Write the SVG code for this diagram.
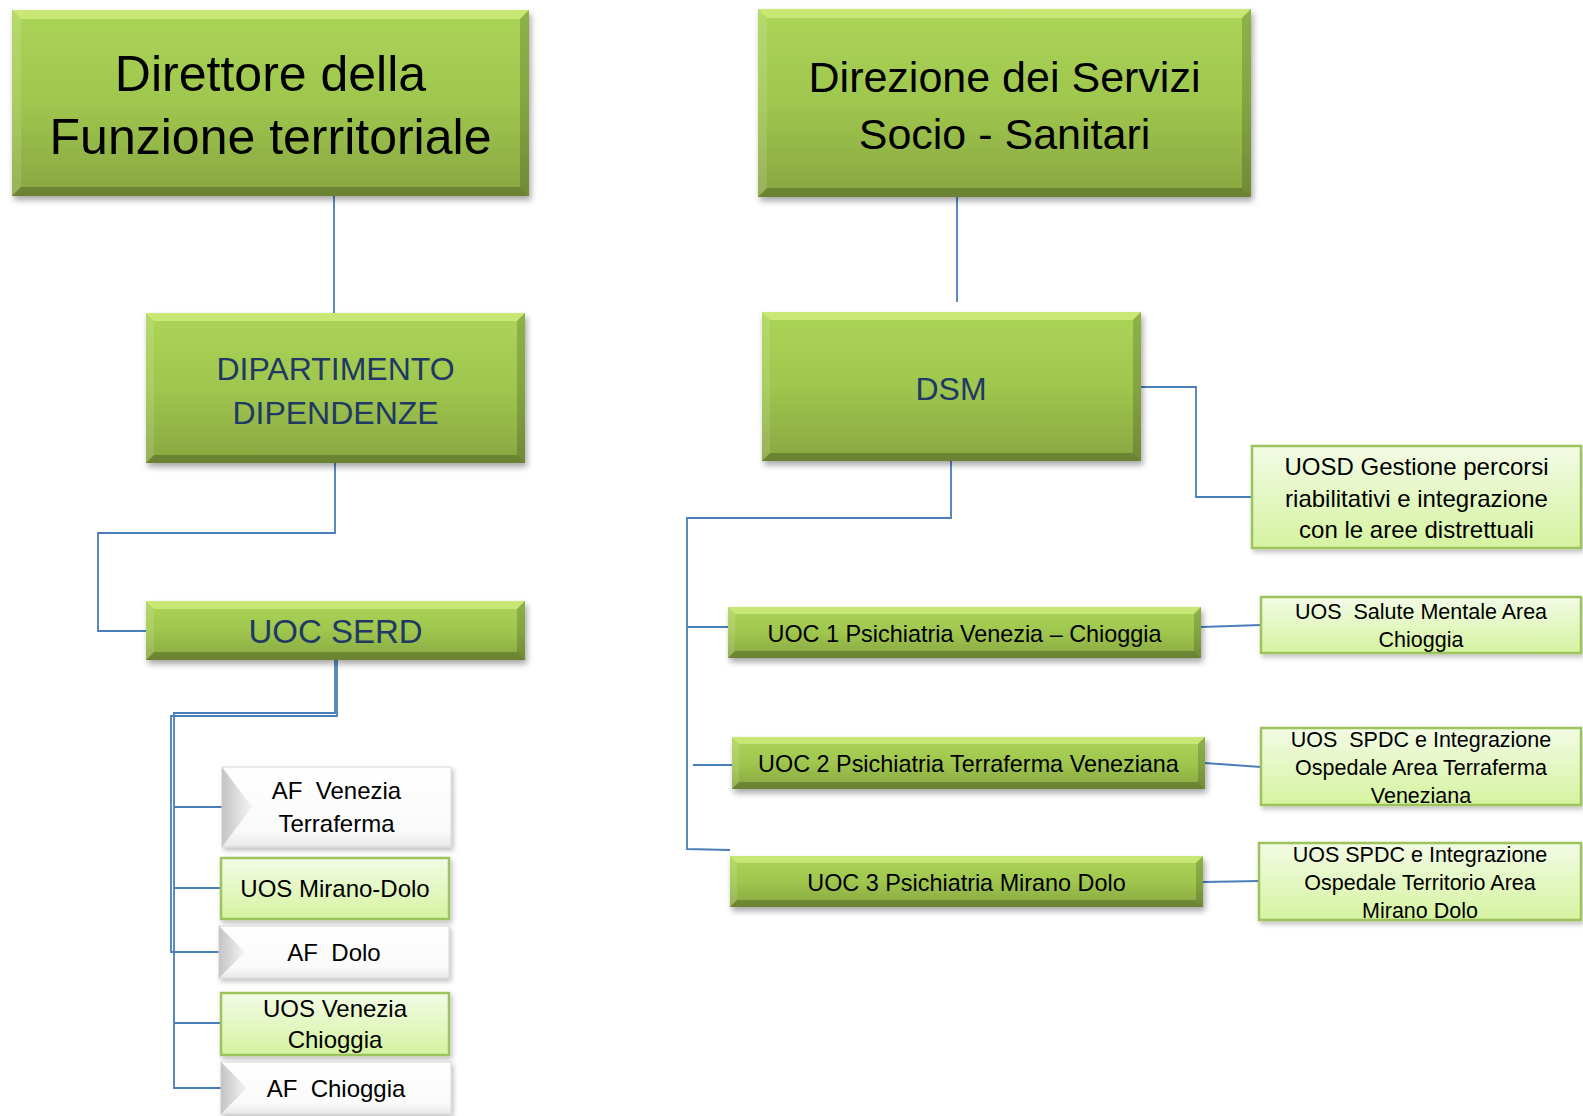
<svg xmlns="http://www.w3.org/2000/svg" width="1583" height="1116" viewBox="0 0 1583 1116">
<defs>
<linearGradient id="gG" x1="0" y1="0" x2="0" y2="1">
<stop offset="0" stop-color="#abd557"/>
<stop offset="0.5" stop-color="#9fc64e"/>
<stop offset="1" stop-color="#88a741"/>
</linearGradient>
<linearGradient id="gL" x1="0" y1="0" x2="0" y2="1">
<stop offset="0" stop-color="#f3fbe6"/>
<stop offset="1" stop-color="#d5f3a0"/>
</linearGradient>
<linearGradient id="gW" x1="0" y1="0" x2="0" y2="1">
<stop offset="0" stop-color="#ffffff"/>
<stop offset="0.8" stop-color="#fafafa"/>
<stop offset="1" stop-color="#e8e8e8"/>
</linearGradient>
<linearGradient id="gT" x1="0" y1="0" x2="1" y2="0">
<stop offset="0" stop-color="#c4c4c4"/>
<stop offset="1" stop-color="#f4f4f4"/>
</linearGradient>
<filter id="sh" x="-5%" y="-10%" width="115%" height="140%">
<feDropShadow dx="2" dy="4" stdDeviation="3" flood-color="#000" flood-opacity="0.35"/>
</filter>
<filter id="shl" x="-5%" y="-10%" width="115%" height="140%">
<feDropShadow dx="2" dy="3" stdDeviation="2.5" flood-color="#000" flood-opacity="0.25"/>
</filter>
</defs>
<style>
.face{fill:url(#gG);filter:url(#sh)}
.bt{fill:#eeff99;opacity:.45}
.bl{fill:#ffffff;opacity:.12}
.br{fill:#000000;opacity:.17}
.bb{fill:#000000;opacity:.22}
.lg{fill:url(#gL);stroke:#9cc35b;stroke-width:2.5;filter:url(#shl)}
.wb{fill:url(#gW);stroke:#d6d6d6;stroke-width:1;filter:url(#shl)}
.tri{fill:url(#gT)}
.t{font-family:"Liberation Sans",Arial,sans-serif;text-anchor:middle;white-space:pre;fill:#000}
.n{fill:#1f3864}
.s50{font-size:50px}.s43{font-size:43px}.s33{font-size:33px}.s32{font-size:32px}
.s24{font-size:24px}.s23{font-size:23.4px}.s21{font-size:21.5px}
.c{fill:none;stroke:#4a7ebb;stroke-width:1.8}
</style>
<rect width="1583" height="1116" fill="#ffffff"/>

<g id="connectors">
<path class="c" d="M334 196 V313"/>
<path class="c" d="M335 463 V533 H98 V631 H146"/>
<path class="c" d="M335 660 V713 H174 V1088 H221"/>
<path class="c" d="M174 807 H222"/>
<path class="c" d="M174 888 H221"/>
<path class="c" d="M174 1023 H221"/>
<path class="c" d="M337 660 V716 H171 V952 H219"/>
<path class="c" d="M957 190 V302"/>
<path class="c" d="M1141 387 H1196 V497 H1252"/>
<path class="c" d="M951 461 V518 H687 V849 L730 850"/>
<path class="c" d="M687 627 H728"/>
<path class="c" d="M693 765 H732"/>
<path class="c" d="M1201 627 L1261 625"/>
<path class="c" d="M1205 763 L1261 767"/>
<path class="c" d="M1203 882 L1259 881"/>
</g>

<g id="direttore">
<rect class="face" x="12" y="10" width="517" height="186"/>
<polygon class="bt" points="12,10 529,10 520,19 21,19"/>
<polygon class="bl" points="12,10 21,19 21,187 12,196"/>
<polygon class="br" points="529,10 529,196 520,187 520,19"/>
<polygon class="bb" points="12,196 529,196 520,187 21,187"/>
<text class="t s50" x="270.5" y="91">Direttore della</text>
<text class="t s50" x="270.5" y="154">Funzione territoriale</text>
</g>

<g id="direzione">
<rect class="face" x="758" y="9" width="493" height="188"/>
<polygon class="bt" points="758,9 1251,9 1242,18 767,18"/>
<polygon class="bl" points="758,9 767,18 767,188 758,197"/>
<polygon class="br" points="1251,9 1251,197 1242,188 1242,18"/>
<polygon class="bb" points="758,197 1251,197 1242,188 767,188"/>
<text class="t s43" x="1004.5" y="92">Direzione dei Servizi</text>
<text class="t s43" x="1004.5" y="149">Socio - Sanitari</text>
</g>

<g id="dipartimento">
<rect class="face" x="146" y="313" width="379" height="150"/>
<polygon class="bt" points="146,313 525,313 517,321 154,321"/>
<polygon class="bl" points="146,313 154,321 154,455 146,463"/>
<polygon class="br" points="525,313 525,463 517,455 517,321"/>
<polygon class="bb" points="146,463 525,463 517,455 154,455"/>
<text class="t n s32" x="335.5" y="380">DIPARTIMENTO</text>
<text class="t n s32" x="335.5" y="424">DIPENDENZE</text>
</g>

<g id="dsm">
<rect class="face" x="762" y="312" width="379" height="149"/>
<polygon class="bt" points="762,312 1141,312 1133,320 770,320"/>
<polygon class="bl" points="762,312 770,320 770,453 762,461"/>
<polygon class="br" points="1141,312 1141,461 1133,453 1133,320"/>
<polygon class="bb" points="762,461 1141,461 1133,453 770,453"/>
<text class="t n s32" x="951" y="400">DSM</text>
</g>

<g id="uoc-serd">
<rect class="face" x="146" y="601" width="379" height="59"/>
<polygon class="bt" points="146,601 525,601 517,609 154,609"/>
<polygon class="bl" points="146,601 154,609 154,652 146,660"/>
<polygon class="br" points="525,601 525,660 517,652 517,609"/>
<polygon class="bb" points="146,660 525,660 517,652 154,652"/>
<text class="t n s33" x="335.5" y="643">UOC SERD</text>
</g>

<g id="uosd">
<rect class="lg" x="1252" y="446" width="329" height="102"/>
<text class="t s24" x="1416.5" y="475">UOSD Gestione percorsi</text>
<text class="t s24" x="1416.5" y="507">riabilitativi e integrazione</text>
<text class="t s24" x="1416.5" y="538">con le aree distrettuali</text>
</g>

<g id="uoc1">
<rect class="face" x="728" y="607" width="473" height="51"/>
<polygon class="bt" points="728,607 1201,607 1194,614 735,614"/>
<polygon class="bl" points="728,607 735,614 735,651 728,658"/>
<polygon class="br" points="1201,607 1201,658 1194,651 1194,614"/>
<polygon class="bb" points="728,658 1201,658 1194,651 735,651"/>
<text class="t s23" x="964.5" y="642">UOC 1 Psichiatria Venezia – Chioggia</text>
</g>

<g id="uoc2">
<rect class="face" x="732" y="737" width="473" height="52"/>
<polygon class="bt" points="732,737 1205,737 1198,744 739,744"/>
<polygon class="bl" points="732,737 739,744 739,782 732,789"/>
<polygon class="br" points="1205,737 1205,789 1198,782 1198,744"/>
<polygon class="bb" points="732,789 1205,789 1198,782 739,782"/>
<text class="t s23" x="968.5" y="772">UOC 2 Psichiatria Terraferma Veneziana</text>
</g>

<g id="uoc3">
<rect class="face" x="730" y="856" width="473" height="51"/>
<polygon class="bt" points="730,856 1203,856 1196,863 737,863"/>
<polygon class="bl" points="730,856 737,863 737,900 730,907"/>
<polygon class="br" points="1203,856 1203,907 1196,900 1196,863"/>
<polygon class="bb" points="730,907 1203,907 1196,900 737,900"/>
<text class="t s23" x="966.5" y="891">UOC 3 Psichiatria Mirano Dolo</text>
</g>

<g id="uos-salute">
<rect class="lg" x="1261" y="597" width="320" height="56"/>
<text class="t s21" x="1421" y="619">UOS  Salute Mentale Area</text>
<text class="t s21" x="1421" y="647">Chioggia</text>
</g>

<g id="uos-spdc-terraferma">
<rect class="lg" x="1261" y="728" width="320" height="77"/>
<text class="t s21" x="1421" y="747">UOS  SPDC e Integrazione</text>
<text class="t s21" x="1421" y="775">Ospedale Area Terraferma</text>
<text class="t s21" x="1421" y="803">Veneziana</text>
</g>

<g id="uos-spdc-mirano">
<rect class="lg" x="1259" y="843" width="322" height="77"/>
<text class="t s21" x="1420" y="862">UOS SPDC e Integrazione</text>
<text class="t s21" x="1420" y="890">Ospedale Territorio Area</text>
<text class="t s21" x="1420" y="918">Mirano Dolo</text>
</g>

<g id="af-venezia">
<rect class="wb" x="222" y="767" width="229" height="80"/>
<polygon class="tri" points="222,767 252,807 222,847"/>
<text class="t s24" x="336.5" y="799">AF  Venezia</text>
<text class="t s24" x="336.5" y="832">Terraferma</text>
</g>

<g id="uos-mirano-dolo">
<rect class="lg" x="221" y="858" width="228" height="61"/>
<text class="t s24" x="335" y="897">UOS Mirano-Dolo</text>
</g>

<g id="af-dolo">
<rect class="wb" x="219" y="926" width="230" height="52"/>
<polygon class="tri" points="219,926 245,952 219,978"/>
<text class="t s24" x="334" y="961">AF  Dolo</text>
</g>

<g id="uos-venezia-chioggia">
<rect class="lg" x="221" y="993" width="228" height="62"/>
<text class="t s24" x="335" y="1017">UOS Venezia</text>
<text class="t s24" x="335" y="1048">Chioggia</text>
</g>

<g id="af-chioggia">
<rect class="wb" x="221" y="1062" width="230" height="52"/>
<polygon class="tri" points="221,1062 247,1088 221,1114"/>
<text class="t s24" x="336" y="1097">AF  Chioggia</text>
</g>
</svg>
